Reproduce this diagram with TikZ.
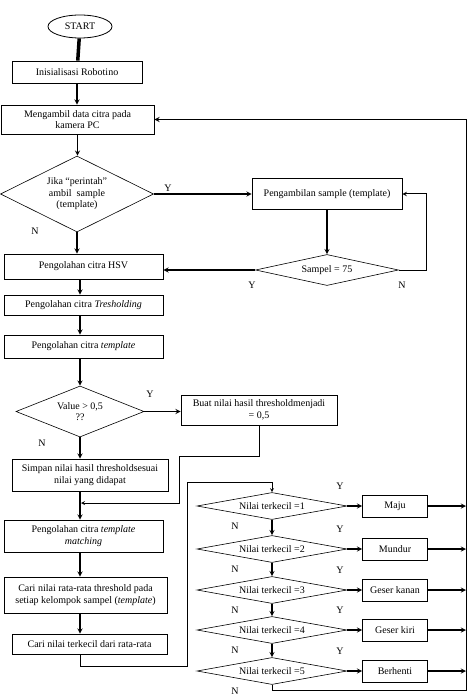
\documentclass[tikz,border=0pt]{standalone}
\usepackage{fontspec}
\setmainfont{Liberation Serif}
\usetikzlibrary{shapes.geometric}
\tikzset{
  kotak/.style={draw, rectangle, align=center, inner sep=1pt, line width=.8pt},
  keputusan/.style={draw, diamond, align=center, inner sep=0pt, line width=.6pt},
  panah/.style={->, line width=1.3pt},
  tipis/.style={line width=.8pt}
}
\begin{document}
\begin{tikzpicture}[>=stealth, x=1pt, y=-1pt, font=\fontsize{10}{11.5}\selectfont]
\useasboundingbox (0,0) rectangle (469,700);
% kolom kiri
\node[draw, ellipse, minimum width=64pt, minimum height=23pt, inner sep=0pt, line width=.8pt] (start) at (80,26.5) {START};
\node[kotak, minimum width=130pt, minimum height=22pt] (init) at (77,72) {Inisialisasi Robotino};
\node[kotak, minimum width=153pt, minimum height=29pt] (ambil) at (77.5,119.5) {Mengambil data citra pada\\kamera PC};
\node[keputusan, minimum width=153pt, minimum height=76pt, aspect=2] (jika) at (77,194) {Jika “perintah”\\ambil\ \ sample\\(template)};
\node[kotak, minimum width=159pt, minimum height=25pt] (hsv) at (83.5,266.5) {Pengolahan citra HSV};
\node[kotak, minimum width=159pt, minimum height=20pt] (thresh) at (83.5,305) {Pengolahan citra \textit{Tresholding}};
\node[kotak, minimum width=159pt, minimum height=23pt] (tmpl) at (83.5,346.5) {Pengolahan citra \textit{template}};
\node[keputusan, minimum width=128pt, minimum height=51pt, aspect=2.5] (value) at (80,411.5) {Value > 0,5\\??};
\node[kotak, minimum width=156pt, minimum height=32pt] (simpan) at (90,475) {Simpan nilai hasil thresholdsesuai\\nilai yang didapat};
\node[kotak, minimum width=159pt, minimum height=32pt] (matching) at (83.5,536) {Pengolahan citra \textit{template}\\\textit{matching}};
\node[kotak, minimum width=163pt, minimum height=36pt] (rata) at (85.5,595) {Cari nilai rata-rata threshold pada\\setiap kelompok sampel (\textit{template})};
\node[kotak, minimum width=155pt, minimum height=20pt] (terkecil) at (89.5,644) {Cari nilai terkecil dari rata-rata};
% kolom kanan
\node[kotak, minimum width=150pt, minimum height=31pt] (ambilsampel) at (327,194) {Pengambilan sample (template)};
\node[keputusan, minimum width=143pt, minimum height=31pt, aspect=4.6] (sampel) at (327,270) {Sampel = 75};
\node[kotak, minimum width=156pt, minimum height=30pt] (buat) at (259,410) {Buat nilai hasil thresholdmenjadi\\= 0,5};

\coordinate (kolom) at (80,0);
\coordinate (kn) at (426,270);
\coordinate (bk1) at (179,456);
\coordinate (gabung) at (81,503);
\coordinate (bk2) at (187,666);
\coordinate (bk3) at (187,482);
\coordinate (garis) at (466,119.5);
\coordinate (bk4) at (466,690);

\foreach \i/\posy/\aksi in {1/506/Maju, 2/549/Mundur, 3/590/Geser kanan, 4/630/Geser kiri, 5/671/Berhenti}
{
    \node[keputusan, minimum width=150pt, minimum height=27pt, aspect=5.5] (d\i) at (272,\posy) {Nilai terkecil =\i};
    \node[kotak, minimum width=65pt, minimum height=22pt] (aksi\i) at (395,\posy) {\aksi};
    \draw[panah] (d\i.east) -- (aksi\i.west);
    \draw[panah] (aksi\i.east) -- (aksi\i.east -| garis);
    \node (yd\i) at (340,\posy-20) {Y};
    \node (nd\i) at (235,\posy+20) {N};
}
\foreach \i/\j in {1/2, 2/3, 3/4, 4/5}
{
    \draw[panah] (d\i.south) -- (d\j.north);
}

% alur
\draw[line width=3.5pt] (start) -- (init);
\draw[panah] (init.south) -- (init.south |- ambil.north);
\draw[panah] (ambil.south) -- (ambil.south |- jika.north);
\draw[panah] (jika.east) -- (jika.east -| ambilsampel.west);
\draw[panah] (jika.south) -- (jika.south |- hsv.north);
\draw[panah] (ambilsampel.south) -- (sampel.north);
\draw[panah] (sampel.west) -- (sampel.west -| hsv.east);
\draw[panah, line width=1pt] (sampel.east) -- (kn) |- (ambilsampel.east);
\draw[panah] (hsv.south -| kolom) -- (thresh.north -| kolom);
\draw[panah] (thresh.south -| kolom) -- (tmpl.north -| kolom);
\draw[panah] (tmpl.south -| kolom) -- (value.north);
\draw[panah] (value.east) -- (value.east -| buat.west);
\draw[panah] (value.south) -- (value.south |- simpan.north);
\draw[panah, tipis] (buat.south) |- (bk1) |- (gabung);
\draw[panah] (simpan.south -| kolom) -- (matching.north -| kolom);
\draw[panah] (matching.south -| kolom) -- (rata.north -| kolom);
\draw[panah] (rata.south -| kolom) -- (terkecil.north -| kolom);
\draw[panah, tipis] (terkecil.south -| kolom) |- (bk2) -- (bk3) -| (d1.north);
\draw[tipis] (d5.south) |- (bk4) -- (garis);
\draw[panah] (garis) -- (ambil.east);

% label Y / N
\node (y1) at (168,188) {Y};
\node (n1) at (35,231) {N};
\node (y2) at (252,285) {Y};
\node (n2) at (402,285) {N};
\node (y3) at (150,394) {Y};
\node (n3) at (42,443) {N};
\end{tikzpicture}
\end{document}
